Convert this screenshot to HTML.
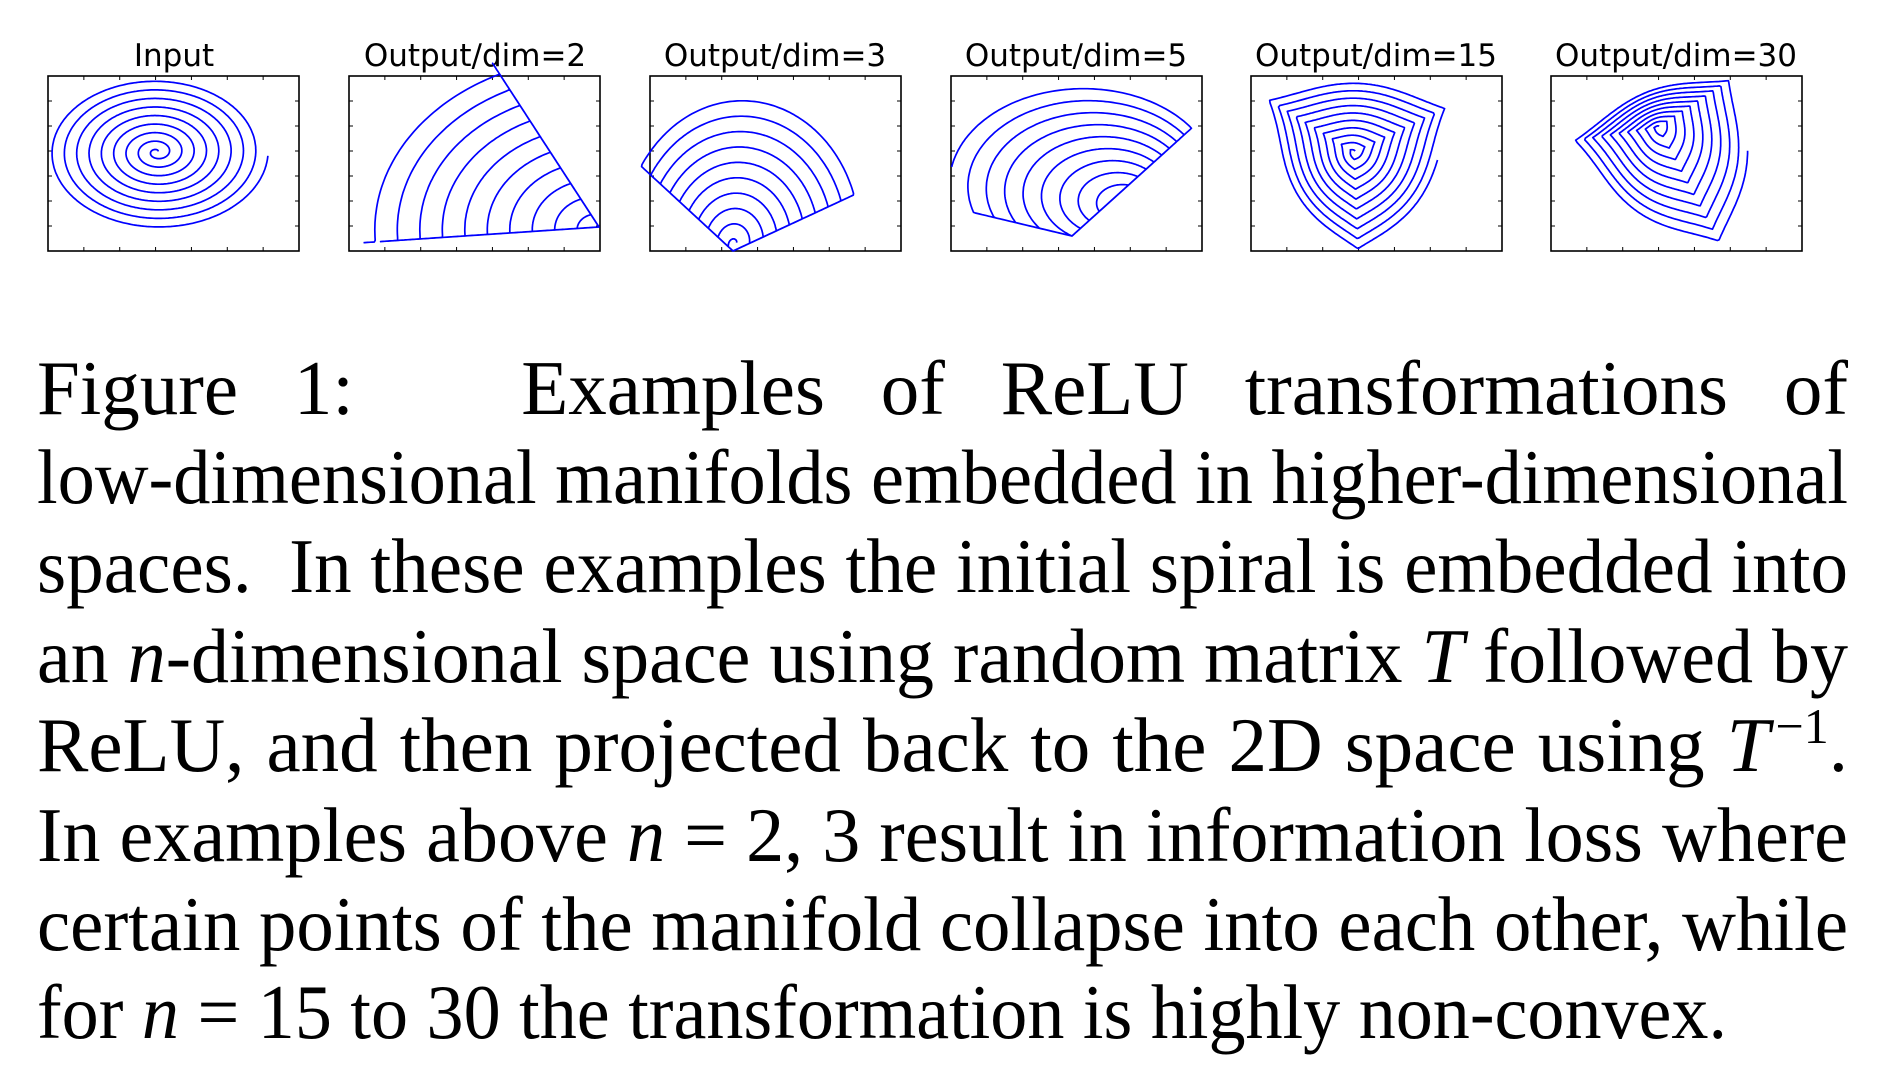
<!DOCTYPE html>
<html><head><meta charset="utf-8">
<style>
html,body{margin:0;padding:0;background:#fff;}
body{width:1894px;height:1074px;position:relative;overflow:hidden;}
svg{position:absolute;left:0;top:0;}
.t{position:absolute;font-family:"DejaVu Sans",sans-serif;font-size:31px;color:#000;text-align:center;width:320px;}
.cap{position:absolute;left:37px;width:1811px;top:0;font-family:"Liberation Serif","Times New Roman",serif;font-size:77px;color:#000;}
.ln{position:absolute;left:0;white-space:nowrap;height:89px;line-height:89px;transform-origin:0 50%;}
i{font-style:italic;}
sup{font-size:50px;line-height:0;vertical-align:baseline;position:relative;top:-28px;margin-left:6px;}
</style></head><body>
<div class="t" style="left:14px;top:38px">Input</div>
<div class="t" style="left:315px;top:38px">Output/dim=2</div>
<div class="t" style="left:615px;top:38px">Output/dim=3</div>
<div class="t" style="left:916px;top:38px">Output/dim=5</div>
<div class="t" style="left:1216px;top:38px">Output/dim=15</div>
<div class="t" style="left:1516px;top:38px">Output/dim=30</div>
<svg id="s" width="1894" height="300" viewBox="0 0 1894 300"></svg>
<div class="cap">
<div class="ln" data-w="1811" style="top:344px">Figure 1:&nbsp;&nbsp; Examples of ReLU transformations of</div>
<div class="ln" data-w="1811" style="top:433px">low-dimensional manifolds embedded in higher-dimensional</div>
<div class="ln" data-w="1811" style="top:522px">spaces.&nbsp; In these examples the initial spiral is embedded into</div>
<div class="ln" data-w="1811" style="top:612px">an <i>n</i>-dimensional space using random matrix <i>T</i> followed by</div>
<div class="ln" data-w="1811" style="top:701px">ReLU, and then projected back to the 2D space using <i>T</i><sup>−1</sup>.</div>
<div class="ln" data-w="1811" style="top:791px">In examples above <i>n</i> = 2, 3 result in information loss where</div>
<div class="ln" data-w="1811" style="top:880px">certain points of the manifold collapse into each other, while</div>
<div class="ln" data-w="1690" style="top:968px">for <i>n</i> = 15 to 30 the transformation is highly non-convex.</div>
</div>
<script>
document.querySelectorAll('.ln').forEach(function(el){
  var target=+el.getAttribute('data-w');
  var w=el.getBoundingClientRect().width;
  if(w>target){el.style.transform='scaleX('+(target/w)+')';}
  else{
    var spaces=(el.textContent.match(/ /g)||[]).length+ (el.textContent.match(/\u00a0/g)||[]).length;
    if(spaces>0)el.style.wordSpacing=((target-w)/spaces)+'px';
  }
});
var s=document.getElementById('s'),out='';
var boxes=[48,349,650,951,1251,1551];
boxes.forEach(function(x){
  var y=76,w=251,h=175;
  out+='<rect x="'+x+'" y="'+y+'" width="'+w+'" height="'+h+'" fill="none" stroke="#000" stroke-width="1.6"/>';
  for(var i=1;i<7;i++){
    var tx=x+w*i/7, ty=y+h*i/7;
    out+='<line x1="'+tx+'" y1="'+y+'" x2="'+tx+'" y2="'+(y+4)+'" stroke="#000" stroke-width="1"/>';
    out+='<line x1="'+tx+'" y1="'+(y+h)+'" x2="'+tx+'" y2="'+(y+h-4)+'" stroke="#000" stroke-width="1"/>';
    out+='<line x1="'+x+'" y1="'+ty+'" x2="'+(x+4)+'" y2="'+ty+'" stroke="#000" stroke-width="1"/>';
    out+='<line x1="'+(x+w)+'" y1="'+ty+'" x2="'+(x+w-4)+'" y2="'+ty+'" stroke="#000" stroke-width="1"/>';
  }
});
function pl(pts){return '<polyline fill="none" stroke="#0000ff" stroke-width="1.7" stroke-linejoin="round" points="'+pts.map(function(p){return p[0].toFixed(1)+','+p[1].toFixed(1)}).join(' ')+'"/>';}
function triDist(th,V){
  var dx=Math.cos(th),dy=Math.sin(th),best=1e9;
  for(var i=0;i<3;i++){var A=V[i],B=V[(i+1)%3];
    var ex=B[0]-A[0],ey=B[1]-A[1];var den=dx*ey-dy*ex; if(Math.abs(den)<1e-9)continue;
    var t=(A[0]*ey-A[1]*ex)/den, u=(A[0]*dy-A[1]*dx)/den;
    if(t>0&&u>=-0.001&&u<=1.001&&t<best)best=t;}
  return best;
}
function spiral(o){
  var pts=[],N=3000;
  for(var k=0;k<=N;k++){
    var t=0.015+0.985*k/N;
    var th=o.end+2*Math.PI*o.turns*(1-t);
    var cx=o.c0[0]+(o.c1[0]-o.c0[0])*t, cy=o.c0[1]+(o.c1[1]-o.c0[1])*t;
    var x,y;
    if(o.V){var d=triDist(th,o.V);var m=o.m||40;var dd=d*(1-o.bl)+m*o.bl;
      x=cx+t*dd*Math.cos(th);y=cy+t*dd*Math.sin(th);}
    else{x=cx+t*o.rx*Math.cos(th);y=cy+t*o.ry*Math.sin(th);}
    if(o.C){var C=o.C,e1=o.e1,e2=o.e2;var px=x-C[0],py=y-C[1];
      var det=e1[0]*e2[1]-e1[1]*e2[0];
      var a=(px*e2[1]-py*e2[0])/det,b=(e1[0]*py-e1[1]*px)/det;
      a=Math.max(a,0);b=Math.max(b,0);
      x=C[0]+a*e1[0]+b*e2[0];y=C[1]+a*e1[1]+b*e2[1];}
    pts.push([x,y]);
  }
  return pl(pts);
}
out+=spiral({c0:[157,152],c1:[157,152],rx:111,ry:77,turns:9,end:0.05});
out+=spiral({c0:[599,227],c1:[599,227],rx:225,ry:175,turns:10,end:2.9,C:[599,227],e1:[-91,-140],e2:[-225,15]});
out+=spiral({c0:[735,244],c1:[745,240],rx:128,ry:150,turns:10,end:0.3,C:[733,251],e1:[-78,-72],e2:[140,-65]});
out+=spiral({c0:[1134,206],c1:[1085,182],rx:135,ry:96,turns:10,end:3.3,C:[1072,236],e1:[-122,-29],e2:[112,-101]});
out+=spiral({c0:[1354,152],c1:[1358,160],V:[[-120,-80],[120,-70],[0,95]],bl:0.55,m:88,turns:10,end:0.0});
out+=spiral({c0:[1658,127],c1:[1675,158],V:[[-125,-20],[70,-95],[50,95]],bl:0.5,m:85,turns:10,end:-0.1});
s.innerHTML=out;
</script>
</body></html>
